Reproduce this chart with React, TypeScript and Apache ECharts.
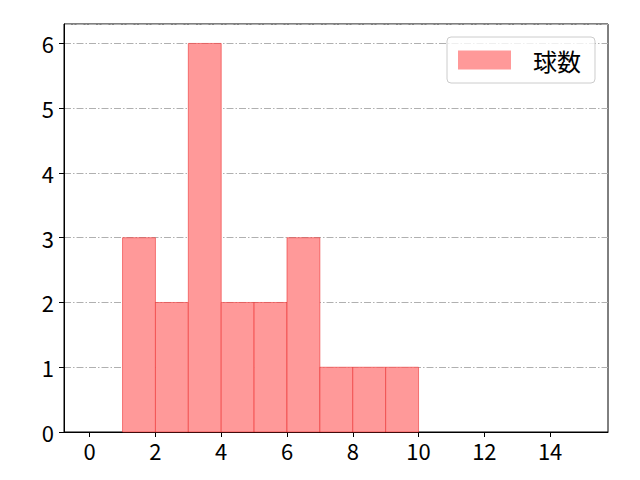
import React, { useEffect, useRef } from "react";
import * as echarts from "echarts";

const binStarts = [1, 2, 3, 4, 5, 6, 7, 8, 9];
const binEnds = [2, 3, 4, 5, 6, 7, 8, 9, 10];
const counts = [3, 2, 6, 2, 2, 3, 1, 1, 1];
const xTicks = [0, 2, 4, 6, 8, 10, 12, 14];
const seriesName = "球数";

export default function App() {
  const ref = useRef<HTMLDivElement>(null);
  useEffect(() => {
    const chart = echarts.init(ref.current!, null, { renderer: "svg" });
    const data = binStarts.map((s, i) => [s, binEnds[i], counts[i]]);
    const font = "'Noto Sans CJK JP', 'Noto Sans', sans-serif";
    chart.setOption({
      animation: false,
      grid: {
        left: 64,
        right: 32,
        top: 24,
        bottom: 48,
        show: true,
        borderColor: "#000",
        borderWidth: 1,
        containLabel: false,
      },
      legend: {
        left: 447,
        top: 37,
        padding: [11, 14, 11, 11],
        itemWidth: 53,
        itemHeight: 19,
        icon: "rect",
        borderColor: "#cccccc",
        borderWidth: 1,
        borderRadius: 4,
        backgroundColor: "rgba(255,255,255,0.8)",
        textStyle: {
          fontSize: 24,
          fontFamily: font,
          color: "#000",
          padding: [0, 0, 0, 17],
          lineHeight: 24,
        },
        data: [seriesName],
      },
      xAxis: {
        type: "value",
        min: -0.78,
        max: 15.76,
        axisLine: { show: true, onZero: false, lineStyle: { color: "#000" } },
        axisTick: {
          show: true,
          customValues: xTicks,
          length: 5,
          lineStyle: { color: "#000" },
        },
        axisLabel: {
          customValues: xTicks,
          fontSize: 22,
          fontFamily: font,
          color: "#000",
          margin: 7,
        },
        splitLine: { show: false },
      },
      yAxis: {
        type: "value",
        min: 0,
        max: 6.3,
        interval: 1,
        axisLine: { show: true, onZero: false, lineStyle: { color: "#000" } },
        axisTick: { show: true, length: 5, lineStyle: { color: "#000" } },
        axisLabel: {
          fontSize: 22,
          fontFamily: font,
          color: "#000",
          margin: 10,
          showMaxLabel: false,
        },
        splitLine: {
          show: true,
          lineStyle: { color: "#b0b0b0", width: 1, type: [7, 2, 1.5, 2] },
        },
      },
      series: [
        {
          name: seriesName,
          type: "custom",
          itemStyle: { color: "#ff9999", borderColor: "rgba(235,40,40,0.55)" },
          renderItem: (params: any, api: any) => {
            const x0 = api.value(0);
            const x1 = api.value(1);
            const h = api.value(2);
            const p0 = api.coord([x0, h]);
            const p1 = api.coord([x1, 0]);
            return {
              type: "rect",
              shape: { x: p0[0], y: p0[1], width: p1[0] - p0[0], height: p1[1] - p0[1] },
              style: {
                fill: "#ff9999",
                stroke: "rgba(235,40,40,0.55)",
                lineWidth: 1,
              },
            };
          },
          encode: { x: [0, 1], y: 2 },
          data,
          z: 5,
        },
      ],
    });
    return () => chart.dispose();
  }, []);
  return <div ref={ref} style={{ width: 640, height: 480, margin: -8 }} />;
}
